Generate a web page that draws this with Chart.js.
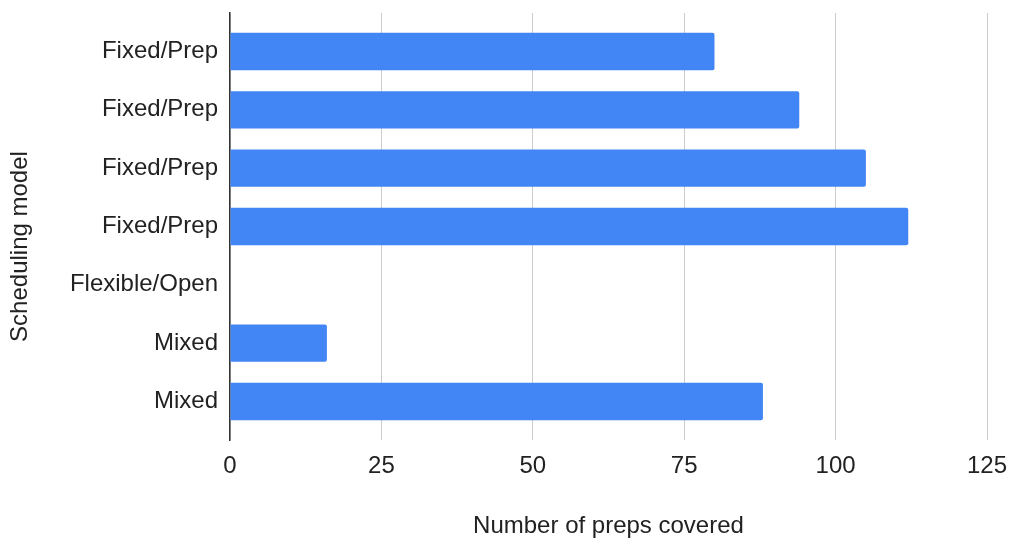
<!DOCTYPE html>
<html>
<head>
<meta charset="utf-8">
<script src="https://cdn.jsdelivr.net/npm/chart.js@4"></script>
<style>
  html, body { margin: 0; padding: 0; background: #ffffff; }
  #wrap { width: 1011px; height: 539px; position: relative; }
</style>
</head>
<body>
<div id="wrap"><canvas id="chart"></canvas></div>
<script>
// Scheduling models and the preps each one covers
const categories = ['Fixed/Prep', 'Fixed/Prep', 'Fixed/Prep', 'Fixed/Prep', 'Flexible/Open', 'Mixed', 'Mixed'];
const prepsCovered = [80, 94, 105, 112, 0, 16, 88];
const xTicks = [0, 25, 50, 75, 100, 125];
const yTitle = 'Scheduling model';
const xTitle = 'Number of preps covered';

const FONT = "'Liberation Sans', Arial, sans-serif";
const TEXT = '#222222';
const SIZE = 24;

// Each row sits at its index on a numeric vertical scale
const points = prepsCovered.map((v, i) => ({ x: v, y: i }));

// Vertical axis title, centred on the full canvas height
const sideTitle = {
  id: 'sideTitle',
  afterDraw(chart) {
    const ctx = chart.ctx;
    ctx.save();
    ctx.translate(20, chart.height / 2 - 23);
    ctx.rotate(-Math.PI / 2);
    ctx.fillStyle = TEXT;
    ctx.font = SIZE + 'px ' + FONT;
    ctx.textAlign = 'center';
    ctx.textBaseline = 'middle';
    ctx.fillText(yTitle, 0, 0);
    ctx.restore();
  }
};

new Chart(document.getElementById('chart'), {
  type: 'bar',
  data: {
    datasets: [{
      data: points,
      backgroundColor: '#4285f4',
      borderWidth: 0,
      borderRadius: 2,
      borderSkipped: 'start',
      categoryPercentage: 1,
      barPercentage: 0.64
    }]
  },
  plugins: [sideTitle],
  options: {
    indexAxis: 'y',
    responsive: true,
    maintainAspectRatio: false,
    animation: false,
    layout: { padding: { top: 13, right: 24, left: 0, bottom: 0 } },
    plugins: { legend: { display: false }, tooltip: { enabled: false } },
    scales: {
      x: {
        type: 'linear',
        min: xTicks[0],
        max: xTicks[xTicks.length - 1],
        afterBuildTicks: (s) => { s.ticks = xTicks.map(v => ({ value: v })); },
        afterFit: (s) => { s.height = 99; s.paddingLeft = 0; s.paddingRight = 0; },
        grid: { color: '#cccccc', lineWidth: 1, drawTicks: false },
        border: { display: false },
        ticks: {
          padding: 12,
          color: TEXT,
          font: { family: FONT, size: SIZE }
        },
        title: {
          display: true,
          text: xTitle,
          color: TEXT,
          font: { family: FONT, size: SIZE },
          padding: { top: 0, bottom: -2 }
        }
      },
      y: {
        type: 'linear',
        reverse: true,
        offset: false,
        min: -0.66,
        max: categories.length - 1 + 0.66,
        afterBuildTicks: (s) => { s.ticks = categories.map((_, i) => ({ value: i })); },
        afterFit: (s) => { s.width = 230; s.paddingTop = 0; s.paddingBottom = 0; },
        grid: { display: false, offset: false },
        border: { display: true, color: '#333333', width: 1.5 },
        ticks: {
          autoSkip: false,
          padding: 4,
          color: TEXT,
          font: { family: FONT, size: SIZE },
          callback: (v) => categories[v] !== undefined ? categories[v] : ''
        },
        title: { display: false }
      }
    }
  }
});
</script>
</body>
</html>
